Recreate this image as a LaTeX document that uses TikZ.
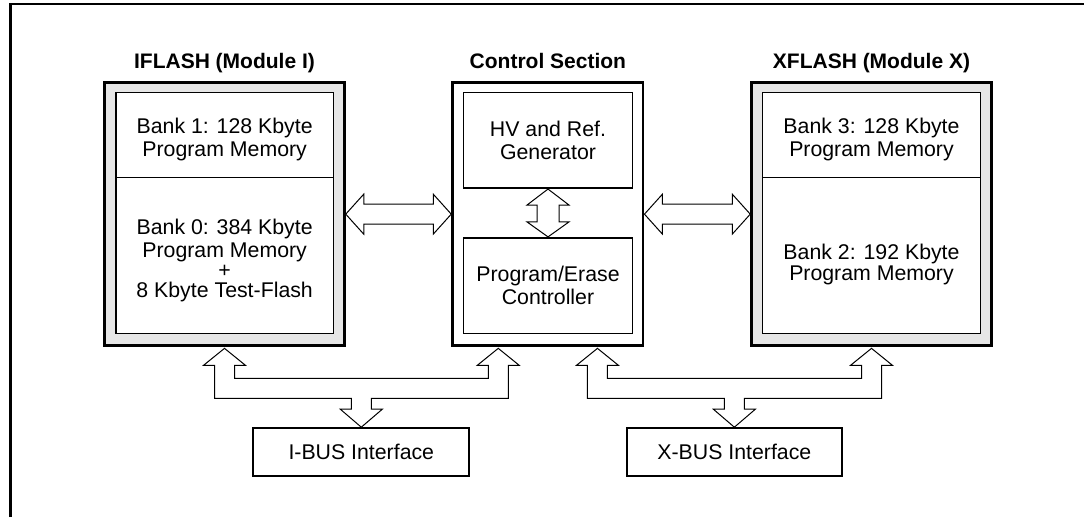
\documentclass[tikz,border=0pt]{standalone}
\usepackage{fontspec}
\setmainfont{Liberation Sans}
\usetikzlibrary{calc}
\definecolor{modgray}{RGB}{230,230,230}
\newcommand{\fatH}[2]{\draw[fat] (#1) -- ++(18,-20) -- ++(0,10) -- ($(#2)+(-18,-10)$) -- ++(0,-10) -- (#2) -- ++(-18,20) -- ++(0,-10) -- ($(#1)+(18,10)$) -- ++(0,10) -- cycle;}
\newcommand{\fatV}[2]{\draw[fat] (#1) -- ++(21,16) -- ++(-10,0) -- ($(#2)+(11,-15)$) -- ++(10,0) -- (#2) -- ++(-21,-15) -- ++(10,0) -- ($(#1)+(-11,16)$) -- ++(-10,0) -- cycle;}
\newcommand{\fatBus}[3]{\draw[fat] (#1) -- ++(21,17) -- ++(-11,0) -- ++(0,13) -- ($(#2)+(-10,30)$) -- ++(0,-13) -- ++(-11,0) -- (#2) -- ++(21,17) -- ++(-11,0) -- ++(0,33) -- ($(#3 |- #1)+(10,50)$) -- ($(#3)+(10,-18)$) -- ++(11,0) -- (#3) -- ++(-21,-18) -- ++(11,0) -- ($(#3 |- #1)+(-10,50)$) -- ($(#1)+(-10,50)$) -- ++(0,-33) -- ++(-11,0) -- cycle;}
\tikzset{
  txt/.style={font=\fontsize{21.3}{22.5}\selectfont, align=center, inner sep=0pt},
  ttl/.style={font=\fontsize{21}{22}\selectfont\bfseries, inner sep=0pt, anchor=base},
  module/.style={draw, line width=2.5pt, fill=modgray, inner sep=0pt, minimum width=240pt, minimum height=262.9pt},
  ctrlbox/.style={draw, line width=2.5pt, fill=white, inner sep=0pt, minimum width=190.7pt, minimum height=262.9pt},
  sect/.style={draw, line width=1.7pt, fill=white, inner sep=0pt, minimum width=217.7pt},
  subbox/.style={draw, line width=1.7pt, fill=white, txt, minimum width=169pt, minimum height=95.7pt},
  busbox/.style={draw, line width=2.2pt, fill=white, txt, minimum width=216pt, minimum height=47.7pt},
  fat/.style={draw, line width=1pt, fill=white, line join=miter}
}
\begin{document}
\begin{tikzpicture}[x=1pt, y=-1pt]
\useasboundingbox (0,0) rectangle (1084,517);
% outer frame
\draw[line width=2.3pt] (10.5,517) -- (10.5,4) -- (1084,4);

% IFLASH
\node[module] (ifl) at (224.5,214.15) {};
\node[ttl] (iflT) at (224.5,68) {IFLASH (Module I)};
\node[sect, minimum height=85pt] (b1) at (224.65,135) {};
\node[sect, minimum height=156pt] (b0) at (224.65,255.5) {};
\node[txt] (b1t) at ($(b1.center)+(0,4.3)$) {Bank 1: 128 Kbyte\\Program Memory};
\node[txt] (b0t) at (224.65,260.5) {Bank 0: 384 Kbyte\\Program Memory\\[-2.5pt]+\\[-2.5pt]8 Kbyte Test-Flash};

% Control section
\node[ctrlbox] (ctl) at (547.85,214.15) {};
\node[ttl] (ctlT) at (547.85,68) {Control Section};
\node[subbox] (hv) at (548,140.35) {HV and Ref.\\Generator};
\node[subbox] (pe) at (548,285.6) {Program/Erase\\Controller};

% XFLASH
\node[module] (xfl) at (871.5,214.15) {};
\node[ttl] (xflT) at (871.5,68) {XFLASH (Module X)};
\node[sect, minimum height=85pt, minimum width=218pt] (b3) at (871.5,135) {};
\node[sect, minimum height=156pt, minimum width=218pt] (b2) at (871.5,255.5) {};
\node[txt] (b3t) at ($(b3.center)+(0,4.3)$) {Bank 3: 128 Kbyte\\Program Memory};
\node[txt, font=\fontsize{21.3}{21}\selectfont] (b2t) at (871.5,264.3) {Bank 2: 192 Kbyte\\Program Memory};

% bus interfaces
\node[busbox] (ibus) at (361.3,452.15) {I-BUS Interface};
\node[busbox, minimum width=215.3pt] (xbus) at (734.35,452.15) {X-BUS Interface};

% arrows
\fatH{ifl.east}{ctl.west}
\fatH{ctl.east}{xfl.west}
\fatV{hv.south}{pe.north}

\coordinate (iL) at ($(ifl.south)+(0,1.5)$);
\coordinate (iR) at ($(ctl.south west)+(47,1.5)$);
\coordinate (iD) at (ibus.north);
\coordinate (xL) at ($(ctl.south east)+(-47,1.5)$);
\coordinate (xR) at ($(xfl.south)+(0,1.5)$);
\coordinate (xD) at (xbus.north);
\fatBus{iL}{iR}{iD}
\fatBus{xL}{xR}{xD}
\end{tikzpicture}
\end{document}
